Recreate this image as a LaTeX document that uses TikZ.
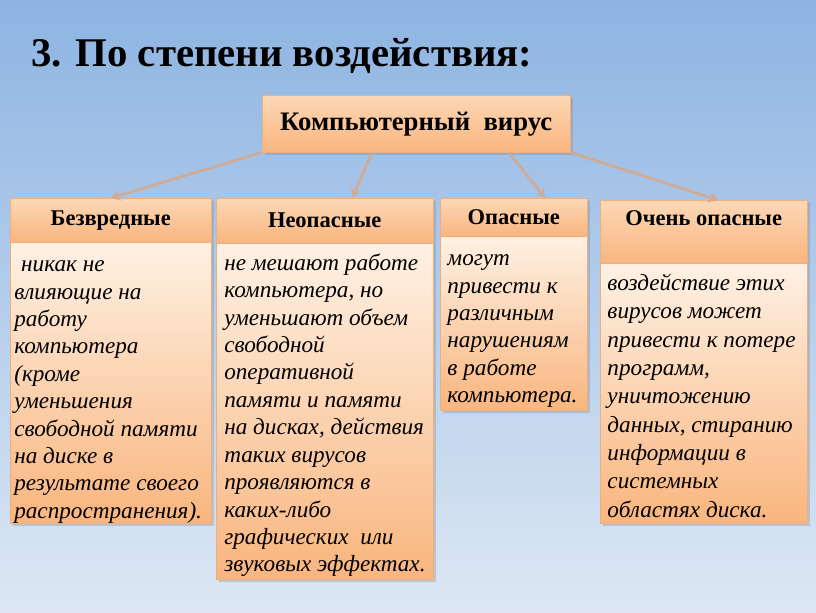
\documentclass[tikz,border=0pt]{standalone}
\usepackage{fontspec}
\setmainfont{Liberation Serif}
\usetikzlibrary{positioning,arrows.meta,calc,shadows}
\definecolor{vrSkyTop}{RGB}{141,180,226}
\definecolor{vrSkyBot}{RGB}{221,231,243}
\definecolor{vrPeachLt}{RGB}{254,241,228}
\definecolor{vrPeach}{RGB}{252,216,182}
\definecolor{vrOrange}{RGB}{249,181,126}
\definecolor{vrEdge}{RGB}{238,175,128}
\definecolor{vrLink}{RGB}{214,168,140}

\begin{document}
\begin{tikzpicture}[
  box/.style={rectangle, draw=vrEdge, line width=0.3pt, inner sep=0pt, anchor=north west,
    drop shadow={opacity=0.3, shadow xshift=0.06cm, shadow yshift=-0.06cm}},
  head/.style={box, top color=vrPeach, bottom color=vrOrange, font=\fontsize{16}{18}\selectfont\bfseries},
  body/.style={box, top color=vrPeachLt, bottom color=vrOrange},
  txt/.style={anchor=north west, align=left, inner sep=0pt, font=\fontsize{16.5}{19.5}\selectfont\itshape},
  link/.style={vrLink, line width=2pt, opacity=0.85, -{Stealth[length=7pt,width=8pt]}}
]
  % Background
  \useasboundingbox (0,0) rectangle (20.4,-15.325);
  \shade[top color=vrSkyTop, bottom color=vrSkyBot] (0,0) rectangle (20.4,-15.325);

  % Title
  \node[anchor=base west, inner sep=0pt, font=\fontsize{29}{34}\selectfont\bfseries] (title) at (0.78,-1.65) {3. По степени воздействия:};

  % Root
  \node[head, minimum width=7.7cm, minimum height=1.425cm, font=\fontsize{19}{22}\selectfont\bfseries] (root) at (6.55,-2.375) {Компьютерный\ \ вирус};

  % Headers
  \node[head, minimum width=5.025cm, minimum height=1.1cm] (h1) at (0.25,-4.95) {Безвредные};
  \node[head, minimum width=5.425cm, minimum height=1.125cm] (h2) at (5.4,-4.95) {Неопасные};
  \node[head, minimum width=3.675cm, minimum height=0.95cm] (h3) at (11,-4.95) {Опасные};
  \node[head, minimum width=5.175cm, minimum height=1.575cm] (h4) at (15,-5) {};
  \node[font=\fontsize{16}{18}\selectfont\bfseries] (h4t) at ([yshift=-0.45cm]h4.north) {Очень опасные};

  % Bodies
  \node[body, minimum width=5.025cm, minimum height=7.025cm] (b1) at (h1.south west) {};
  \node[body, minimum width=5.425cm, minimum height=8.4cm] (b2) at (h2.south west) {};
  \node[body, minimum width=3.675cm, minimum height=4.35cm] (b3) at (h3.south west) {};
  \node[body, minimum width=5.175cm, minimum height=6.5cm] (b4) at (h4.south west) {};

  % Texts
  \node[txt] (t1) at ([xshift=0.1cm,yshift=-0.45cm]b1.north west) {\hspace{0.3em}никак не\\влияющие на\\работу\\компьютера\\(кроме\\уменьшения\\свободной памяти\\на диске в\\результате своего\\распространения).};
  \node[txt] (t2) at ([xshift=0.2cm,yshift=-0.25cm]b2.north west) {не мешают работе\\компьютера, но\\уменьшают объем\\свободной\\оперативной\\памяти и памяти\\на дисках, действия\\таких вирусов\\проявляются в\\каких-либо\\графических\ \ или\\звуковых эффектах.};
  \node[txt] (t3) at ([xshift=0.18cm,yshift=-0.45cm]b3.north west) {могут\\привести к\\различным\\нарушениям\\в работе\\компьютера.};
  \node[txt, font=\fontsize{16.5}{20.2}\selectfont\itshape] (t4) at ([xshift=0.18cm,yshift=-0.25cm]b4.north west) {воздействие этих\\вирусов может\\привести к потере\\программ,\\уничтожению\\данных, стиранию\\информации в\\системных\\областях диска.};

  % Links
  \draw[link] (root.south west) -- (h1.north);
  \draw[link] ($(root.south west)!0.357!(root.south east)$) -- ([xshift=0.69cm]h2.north);
  \draw[link] ($(root.south west)!0.8!(root.south east)$) -- ([xshift=0.79cm]h3.north);
  \draw[link] (root.south east) -- ([xshift=0.36cm]h4.north);
\end{tikzpicture}
\end{document}
